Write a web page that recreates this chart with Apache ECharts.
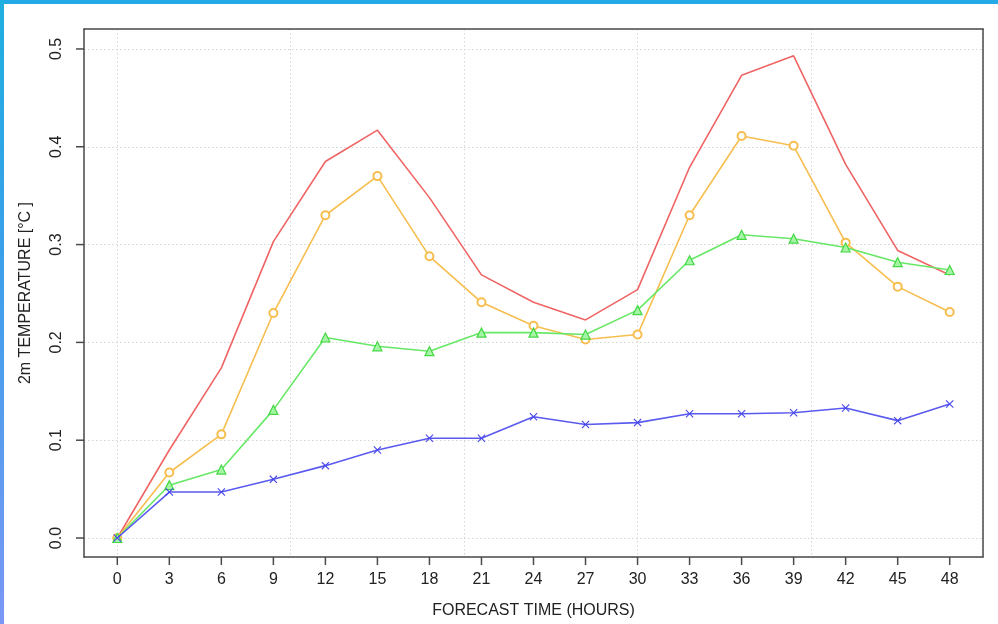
<!DOCTYPE html>
<html>
<head>
<meta charset="utf-8">
<script src="https://cdn.jsdelivr.net/npm/echarts@6/dist/echarts.min.js"></script>
<style>
  html, body { margin: 0; padding: 0; background: #ffffff; }
  #wrap { position: relative; width: 998px; height: 624px; overflow: hidden; background: #fff; }
  #chart { position: absolute; left: 0; top: 0; width: 998px; height: 624px; }
  #topbar { position: absolute; left: 0; top: 0; width: 998px; height: 4px; background: #22a9e6; }
  #leftbar { position: absolute; left: 0; top: 0; width: 4px; height: 624px;
             background: linear-gradient(to bottom, #1fb0e0 0%, #3aa0ea 40%, #7a98f4 100%); }
</style>
</head>
<body>
<div id="wrap">
  <div id="chart"></div>
  <div id="topbar"></div>
  <div id="leftbar"></div>
</div>
<script>
const hours = [0, 3, 6, 9, 12, 15, 18, 21, 24, 27, 30, 33, 36, 39, 42, 45, 48];
const xTicks = [0, 3, 6, 9, 12, 15, 18, 21, 24, 27, 30, 33, 36, 39, 42, 45, 48];
const yTicks = [0, 0.1, 0.2, 0.3, 0.4, 0.5];

const redValues    = [0, 0.090, 0.174, 0.303, 0.385, 0.417, 0.348, 0.269, 0.241, 0.223, 0.254, 0.379, 0.473, 0.493, 0.382, 0.294, 0.269];
const orangeValues = [0, 0.067, 0.106, 0.230, 0.330, 0.370, 0.288, 0.241, 0.217, 0.203, 0.208, 0.330, 0.411, 0.401, 0.302, 0.257, 0.231];
const greenValues  = [0, 0.054, 0.070, 0.131, 0.205, 0.196, 0.191, 0.210, 0.210, 0.208, 0.233, 0.284, 0.310, 0.306, 0.297, 0.282, 0.274];
const blueValues   = [0, 0.047, 0.047, 0.060, 0.074, 0.090, 0.102, 0.102, 0.124, 0.116, 0.118, 0.127, 0.127, 0.128, 0.133, 0.120, 0.137];

function pairs(vals) { return hours.map((h, i) => [h, vals[i]]); }

const FONT = '"Liberation Sans", Arial, Helvetica, sans-serif';
const TXT = '#222222';
const AX = '#4a4a4a';
const X_MIN = -1.92, X_MAX = 49.92, Y_MIN = -0.0194, Y_MAX = 0.5204;
const xMark = 'path://M0,1L1,0L5,4L9,0L10,1L6,5L10,9L9,10L5,6L1,10L0,9L4,5Z';
const gridLine = () => ({ show: true, lineStyle: { color: '#d4d4d4', width: 1, type: [1.5, 2.5] } });
const boxAxis = () => ({ type: 'value', axisLine: { show: true, onZero: false, lineStyle: { color: AX, width: 1.5 } },
                  axisTick: { show: false }, axisLabel: { show: false }, splitLine: { show: false } });
const tickRich = { width: 1.5, height: 8, lineHeight: 8, fontSize: 1, backgroundColor: AX };

const chart = echarts.init(document.getElementById('chart'));
chart.setOption({
  animation: false,
  grid: { left: 84, top: 29, width: 899, height: 529 },
  xAxis: [
    {
      type: 'value', position: 'bottom',
      min: X_MIN, max: X_MAX,
      name: 'FORECAST TIME (HOURS)',
      nameLocation: 'middle', nameGap: 46,
      nameTextStyle: { fontFamily: FONT, fontSize: 16, color: TXT },
      axisLine: { show: true, onZero: false, lineStyle: { color: AX, width: 1.5 } },
      axisTick: { show: false },
      axisLabel: {
        customValues: xTicks, margin: 0,
        formatter: v => '{t|}\n{n|' + v + '}',
        rich: {
          t: tickRich,
          n: { fontFamily: FONT, fontSize: 16, color: TXT, lineHeight: 30 }
        }
      },
      splitLine: gridLine()
    },
    Object.assign({ position: 'top', min: X_MIN, max: X_MAX }, boxAxis())
  ],
  yAxis: [
    {
      type: 'value', position: 'left',
      min: Y_MIN, max: Y_MAX,
      name: '2m TEMPERATURE [°C ]',
      nameLocation: 'middle', nameGap: 50, nameRotate: 90,
      nameTextStyle: { fontFamily: FONT, fontSize: 16, color: TXT },
      axisLine: { show: true, onZero: false, lineStyle: { color: AX, width: 1.5 } },
      axisTick: { show: false },
      axisLabel: {
        customValues: yTicks, rotate: 90, margin: 0,
        formatter: v => '{n|' + v.toFixed(1) + '}\n{t|}',
        rich: {
          t: tickRich,
          n: { fontFamily: FONT, fontSize: 16, color: TXT, lineHeight: 38 }
        }
      },
      splitLine: gridLine()
    },
    Object.assign({ position: 'right', min: Y_MIN, max: Y_MAX }, boxAxis())
  ],
  series: [
    {
      name: 'red', type: 'line', data: pairs(redValues),
      showSymbol: false, symbol: 'none',
      lineStyle: { color: '#f06464', width: 1.6 }, itemStyle: { color: '#f06464' }, z: 2
    },
    {
      name: 'orange', type: 'line', data: pairs(orangeValues),
      symbol: 'emptyCircle', symbolSize: 8,
      lineStyle: { color: '#f7be4f', width: 1.6 },
      itemStyle: { color: '#f7be4f', borderColor: '#f0b040', borderWidth: 1.2 }, z: 3
    },
    {
      name: 'green', type: 'line', data: pairs(greenValues),
      symbol: 'triangle', symbolSize: 9,
      lineStyle: { color: '#66e866', width: 1.6 },
      itemStyle: { color: '#a6f4a6', borderColor: '#44d844', borderWidth: 1.2 }, z: 4
    },
    {
      name: 'blue', type: 'line', data: pairs(blueValues),
      symbol: xMark, symbolSize: 8,
      lineStyle: { color: '#5a5af0', width: 1.6 },
      itemStyle: { color: '#4848ee' }, z: 5
    }
  ]
});
</script>
</body>
</html>
